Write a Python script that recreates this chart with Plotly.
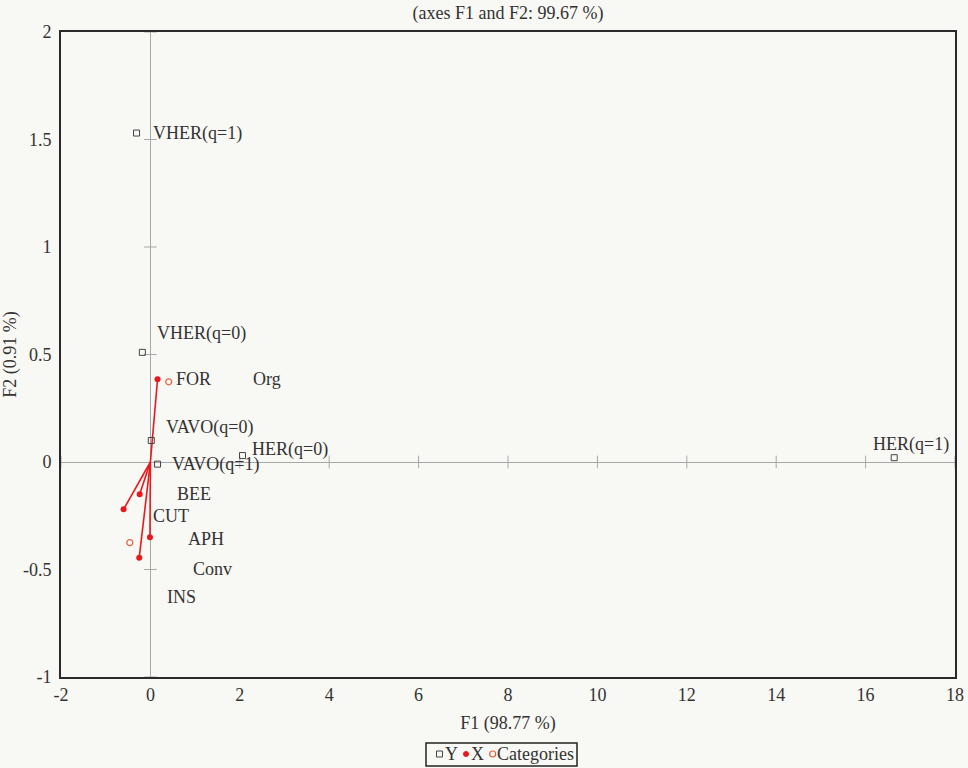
import plotly.graph_objects as go

# ---- data ----
y_labels = ["VHER(q=1)", "VHER(q=0)", "VAVO(q=0)", "VAVO(q=1)", "HER(q=0)", "HER(q=1)"]
y_f1 = [-0.31, -0.18, 0.02, 0.16, 2.06, 16.64]
y_f2 = [1.53, 0.51, 0.10, -0.01, 0.03, 0.02]

x_labels = ["FOR", "BEE", "CUT", "APH", "INS"]
x_f1 = [0.16, -0.24, -0.60, -0.01, -0.25]
x_f2 = [0.385, -0.15, -0.22, -0.35, -0.445]

cat_labels = ["Org", "Conv"]
cat_f1 = [0.41, -0.46]
cat_f2 = [0.373, -0.375]

x_ticks = [-2, 0, 2, 4, 6, 8, 10, 12, 14, 16, 18]
y_ticks = [-1, -0.5, 0, 0.5, 1, 1.5, 2]
x_ticktext = ["-2", "0", "2", "4", "6", "8", "10", "12", "14", "16", "18"]
y_ticktext = ["-1", "-0.5", "0", "0.5", "1", "1.5", "2"]
legend_names = ["Y", "X", "Categories"]

# ---- label offsets in pixels (dx right, dy down) ----
y_off = [(14, 0), (13, -19), (13, -13), (12, 0), (8, -6), (-23, -13)]
x_off = [(16, 0), (35, 0), (27, 7), (36, 2), (26, 39)]
cat_off = [(82, -3), (61, 26)]

FONT = "Liberation Serif"
BG = "#f8f8f4"
RED = "#e8191c"
CATC = "#e5603f"
TXT = "#333333"
AXG = "#a8a8a8"

W, H = 968, 768
ML, MR, MT, MB = 61, 13, 32, 91
PW, PH = W - ML - MR, H - MT - MB


def px(xp):
    return (xp - ML) / PW


def py(yp):
    return (H - MB - yp) / PH


fig = go.Figure()

# tick marks drawn on the zero lines
fig.add_trace(go.Scatter(x=[t for t in x_ticks if t != 0], y=[0] * (len(x_ticks) - 1),
                         mode="markers", marker=dict(symbol="line-ns-open", size=9, color=AXG,
                         line=dict(color=AXG, width=1)),
                         hoverinfo="skip", showlegend=False))
fig.add_trace(go.Scatter(x=[0] * (len(y_ticks) - 1), y=[t for t in y_ticks if t != 0],
                         mode="markers", marker=dict(symbol="line-ew-open", size=9, color=AXG,
                         line=dict(color=AXG, width=1)),
                         hoverinfo="skip", showlegend=False))

# vectors from origin
for xv, yv in zip(x_f1, x_f2):
    fig.add_trace(go.Scatter(x=[0, xv], y=[0, yv], mode="lines",
                             line=dict(color=RED, width=1.6),
                             hoverinfo="skip", showlegend=False))

fig.add_trace(go.Scatter(x=y_f1, y=y_f2, mode="markers", name="Y", showlegend=False,
                         marker=dict(symbol="square-open", size=6,
                                     color="#444444", line=dict(width=1))))
fig.add_trace(go.Scatter(x=x_f1, y=x_f2, mode="markers", name="X", showlegend=False,
                         marker=dict(symbol="circle", size=6, color=RED)))
fig.add_trace(go.Scatter(x=cat_f1, y=cat_f2, mode="markers", name="Categories", showlegend=False,
                         marker=dict(symbol="circle-open", size=6, color=CATC,
                                     line=dict(width=1.2))))

anns = []
for labs, xs, ys, offs in [(y_labels, y_f1, y_f2, y_off),
                           (x_labels, x_f1, x_f2, x_off),
                           (cat_labels, cat_f1, cat_f2, cat_off)]:
    for lab, xv, yv, (dx, dy) in zip(labs, xs, ys, offs):
        anns.append(dict(x=xv, y=yv, xref="x", yref="y", text=lab, showarrow=False,
                         xanchor="left", yanchor="middle", xshift=dx, yshift=-dy,
                         font=dict(family=FONT, size=18, color=TXT)))

# compact legend (box, symbols as shapes, names as text)
LEG_Y = 754
shapes = [
    dict(type="rect", xref="paper", yref="paper", x0=px(426), x1=px(577),
         y0=py(743), y1=py(766), line=dict(color="#222222", width=1.5), fillcolor=BG),
    dict(type="rect", xref="paper", yref="paper", x0=px(436.5), x1=px(442.5),
         y0=py(LEG_Y - 3), y1=py(LEG_Y + 3), line=dict(color="#444444", width=1)),
    dict(type="circle", xref="paper", yref="paper", x0=px(463.5), x1=px(468.5),
         y0=py(LEG_Y - 2.5), y1=py(LEG_Y + 2.5), line=dict(color=RED, width=1), fillcolor=RED),
    dict(type="circle", xref="paper", yref="paper", x0=px(489.7), x1=px(495.7),
         y0=py(LEG_Y - 3), y1=py(LEG_Y + 3), line=dict(color=CATC, width=1.2)),
]
for name, xl in zip(legend_names, [444, 470, 496]):
    anns.append(dict(x=px(xl), y=py(LEG_Y), xref="paper", yref="paper", text=name,
                     showarrow=False, xanchor="left", yanchor="middle", borderpad=0,
                     font=dict(family=FONT, size=18, color=TXT)))

fig.update_layout(annotations=anns, shapes=shapes)

fig.update_layout(
    width=W, height=H,
    paper_bgcolor=BG, plot_bgcolor=BG,
    margin=dict(l=ML, r=MR, t=MT, b=MB),
    font=dict(family=FONT, size=18, color=TXT),
    title=dict(text="(axes F1 and F2: 99.67 %)", x=0.5, xref="paper", xanchor="center",
               y=0.984, yanchor="middle", font=dict(family=FONT, size=18, color=TXT)),
    showlegend=False,
    xaxis=dict(range=[-2, 18], tickvals=x_ticks, ticktext=x_ticktext, showgrid=False,
               zeroline=True, zerolinecolor=AXG, zerolinewidth=1, showline=True, mirror=True,
               linecolor="#2a2a2a", linewidth=1.8, ticks="", ticklabelstandoff=0,
               automargin=False,
               title=dict(text="F1 (98.77 %)", standoff=13, font=dict(size=18)),
               tickfont=dict(size=18)),
    yaxis=dict(range=[-1, 2], tickvals=y_ticks, ticktext=y_ticktext, showgrid=False,
               zeroline=True, zerolinecolor=AXG, zerolinewidth=1, showline=True, mirror=True,
               linecolor="#2a2a2a", linewidth=1.8, ticks="", ticklabelstandoff=4,
               automargin=False,
               title=dict(text="F2 (0.91 %)", standoff=6, font=dict(size=18)),
               tickfont=dict(size=18)),
)

fig.write_html("out.html", config={"displayModeBar": False},
               post_script="document.body.style.margin='0';")
